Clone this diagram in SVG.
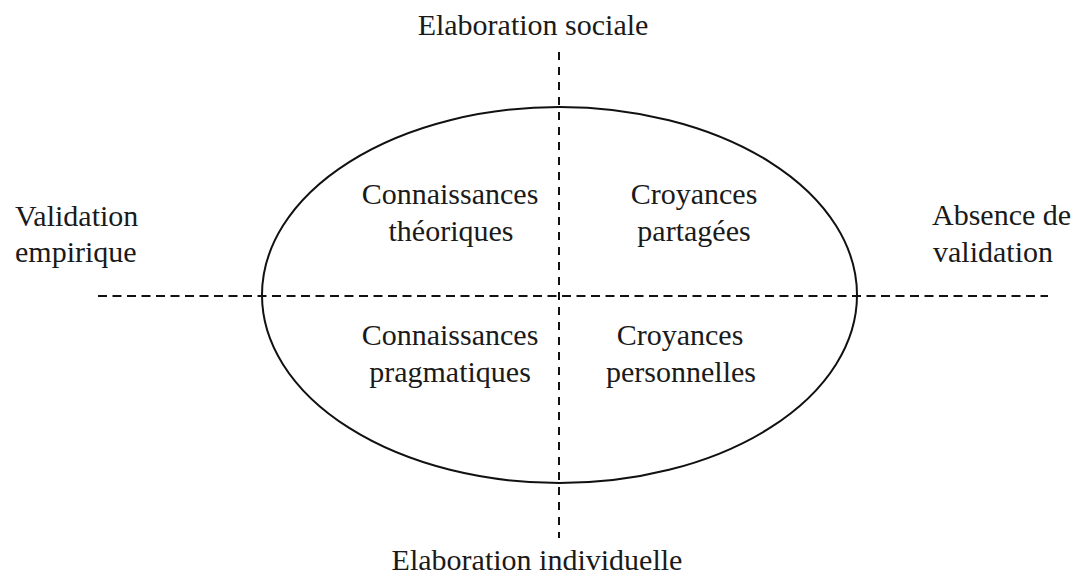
<svg xmlns="http://www.w3.org/2000/svg" width="1075" height="578" viewBox="0 0 1075 578">
<style>
text{font-family:"Liberation Serif","Times New Roman",serif;font-size:30px;fill:#1a1a1a}
.c{text-anchor:middle}
.axis{stroke:#111;stroke-width:2;fill:none}
</style>
<rect width="1075" height="578" fill="#fff"/>
<g id="connectors">
<line class="axis" x1="559" y1="52" x2="559" y2="538" stroke-dasharray="8,7"/>
<line class="axis" x1="98" y1="296" x2="1048" y2="296" stroke-dasharray="9,5.5"/>
</g>
<g id="ellipse"><ellipse cx="559.5" cy="295" rx="297.5" ry="188" fill="none" stroke="#111" stroke-width="2"/></g>
<g id="top"><text class="c" x="533" y="35">Elaboration sociale</text></g>
<g id="bottom"><text class="c" x="537" y="570">Elaboration individuelle</text></g>
<g id="left"><text x="15" y="226">Validation</text><text x="15" y="262">empirique</text></g>
<g id="right"><text x="932" y="225">Absence de</text><text x="933" y="262">validation</text></g>
<g id="q1"><text class="c" x="450" y="204">Connaissances</text><text class="c" x="451" y="241">théoriques</text></g>
<g id="q2"><text class="c" x="694" y="204">Croyances</text><text class="c" x="694" y="241">partagées</text></g>
<g id="q3"><text class="c" x="450" y="345">Connaissances</text><text class="c" x="450" y="382">pragmatiques</text></g>
<g id="q4"><text class="c" x="680" y="345">Croyances</text><text class="c" x="681" y="382">personnelles</text></g>
</svg>
